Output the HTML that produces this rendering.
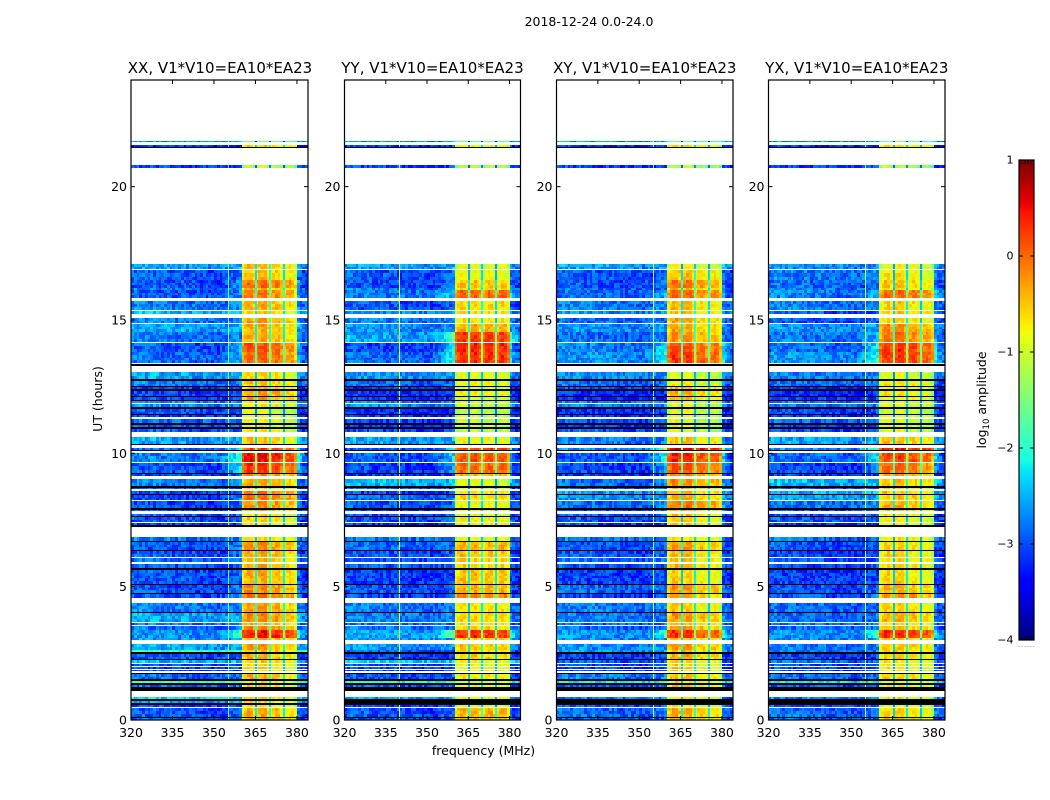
<!DOCTYPE html>
<html lang="en">
<head>
<meta charset="utf-8">
<title>2018-12-24 0.0-24.0 amplitude waterfall</title>
<style>
html,body{margin:0;padding:0;background:#fff;}
svg{display:block;}
text{font-family:"DejaVu Sans","Liberation Sans",sans-serif;fill:#000;}
</style>
</head>
<body>
<svg id="fig" xmlns="http://www.w3.org/2000/svg" width="1050" height="800" viewBox="0 0 1050 800">
  <rect x="0" y="0" width="1050" height="800" fill="#fff"/>
  <text x="589" y="26" text-anchor="middle" font-size="12.5">2018-12-24 0.0-24.0</text>
  <text x="483.5" y="755" text-anchor="middle" font-size="12.5">frequency (MHz)</text>
  <text transform="translate(102,399) rotate(-90)" text-anchor="middle" font-size="12.5">UT (hours)</text>
  <text transform="translate(986,400) rotate(-90)" text-anchor="middle" font-size="12.5">log<tspan font-size="8.5" dy="3">10</tspan><tspan dy="-3"> amplitude</tspan></text>
  <g id="panels"></g>
  <g id="colorbar"></g>
</svg>
<script>
// ---- categories and ticks ----
const panelTitles = ["XX, V1*V10=EA10*EA23", "YY, V1*V10=EA10*EA23", "XY, V1*V10=EA10*EA23", "YX, V1*V10=EA10*EA23"];
const freqTicks = [320, 335, 350, 365, 380];
const utTicks = [0, 5, 10, 15, 20];
const colorTicks = [-4, -3, -2, -1, 0, 1];

// ---- time rows: top edge in UT hours, descending; each row ends at the next value (last ends at 0) ----
const rowTopUT = [
24.00,21.71,21.66,21.56,21.49,21.45,20.81,20.70,17.10,16.91,
16.88,16.50,16.20,16.14,16.11,15.84,15.72,15.38,15.34,15.23,
15.08,14.90,14.86,14.55,14.19,14.14,13.80,13.40,13.35,13.28,
13.05,12.78,12.72,12.53,12.48,12.40,12.35,12.15,12.10,12.00,
11.95,11.90,11.86,11.73,11.67,11.48,11.43,11.37,11.30,11.13,
11.07,10.98,10.92,10.79,10.60,10.35,10.30,10.19,10.13,10.07,
10.02,9.68,9.62,9.27,9.23,9.15,9.05,8.76,8.71,8.67,
8.60,8.48,8.44,8.25,8.21,7.94,7.89,7.85,7.73,7.65,
7.61,7.44,7.40,7.30,7.24,6.86,6.73,6.68,6.38,6.33,
6.12,6.09,5.91,5.85,5.69,5.64,5.10,5.05,4.77,4.74,
4.56,4.39,4.05,4.00,3.68,3.64,3.56,3.53,3.38,3.08,
3.00,2.85,2.64,2.61,2.54,2.49,2.30,2.25,2.15,2.10,
2.03,1.99,1.91,1.88,1.82,1.77,1.73,1.53,1.47,1.38,
1.31,1.25,1.07,0.86,0.78,0.72,0.63,0.56,0.50,0.46,
0.12,0.08];
// W = no data (blank), K = flagged (black), D = data row
const rowKinds = (
"W D W D K W D W D W " +
"D D D W D W D W D W " +
"D W D D W D D W K W " +
"D K D K D K D K D K " +
"D W D K D K D W D K " +
"D K D W D K W D K W " +
"D W D K D W D K D W " +
"D K D W D K D W D K " +
"D W D K W D K D K D " +
"W D W D K D K D K D " +
"W D K D W D W D D D " +
"W D K D K D K D W D " +
"W D W D W K D K D K " +
"D K W D K D K D W D " +
"K D").trim().split(" ");

// ---- per-polarisation level of each data row, log10 amplitude ----
const xxLow = [
-2.7,-3.2,-3.1,-2.6,-3.0,-3.0,-2.8,-3.0,-2.8,-2.5,
-2.8,-2.6,-2.8,-3.0,-2.9,-2.6,-2.8,-3.1,-3.1,-3.1,
-2.7,-2.7,-3.0,-3.1,-2.9,-3.0,-3.0,-2.6,-2.9,-2.8,
-3.0,-3.1,-2.8,-3.0,-3.1,-3.1,-3.1,-3.0,-2.9,-3.0,
-3.1,-2.8,-3.0,-3.0,-2.9,-3.0,-3.0,-3.0,-3.0,-2.8,
-2.6,-2.8,-2.9,-2.7,-2.7,-2.6,-1.9,-3.0,-2.5,-3.1,
-3.1,-3.1,-2.9,-1.9,-2.9,-2.3,-2.6,-3.0,-3.0,-3.0];
const xxBand = [
-1.6,-.6,-1.2,-.6,-.6,-.1,-.5,-.2,-.5,-.6,
-.4,-.5,-.5,0,-.1,-.7,-.6,-.5,-.4,-.4,
-.9,-.8,-1,-1,-.9,-.9,-.8,-.6,.1,.35,
.15,-.3,-.45,-.7,-.2,-.2,-.3,-.6,-.7,-.7,
-.8,-.7,-.3,-.5,-.5,-.4,-.5,-.3,-.15,-.4,
-.3,-.5,-.3,.35,-.5,-.4,-.6,-.5,-.7,-.7,
-.7,-.8,-.5,-.8,-.7,-.7,-.7,-.9,-.5,-.4];
const yyLow = [
-2.7,-3.2,-3.1,-2.6,-3.0,-3.0,-2.8,-2.8,-3.0,-2.7,
-2.8,-2.7,-2.6,-3.1,-2.9,-2.7,-2.9,-3.2,-3.2,-3.2,
-2.8,-2.7,-3.2,-3.2,-3.1,-3.2,-3.1,-2.6,-3.0,-3.0,
-3.1,-3.2,-2.5,-3.0,-3.1,-2.9,-3.0,-3.1,-3.0,-3.0,
-3.2,-2.8,-2.9,-3.0,-3.0,-3.0,-3.1,-3.0,-3.1,-2.8,
-2.8,-2.9,-2.8,-2.6,-2.7,-2.7,-3.0,-3.1,-2.4,-3.1,
-3.1,-3.1,-3.0,-2.0,-3.0,-2.6,-9,-3.1,-3.0,-3.0];
const yyBand = [
-1.6,-.8,-1.2,-.9,-.8,-.5,-.7,0,-.6,-.7,
-.7,-.4,.25,.35,.3,-.9,-.8,-.9,-.8,-.9,
-1,-1,-1.1,-1,-1,-1,-1.1,-.8,.3,.1,
0,-.4,-.9,-.9,-.7,-.6,-.8,-.8,-.9,-.8,
-.8,-.9,-.4,-.5,-.6,-.6,-.5,-.4,-.1,-.7,
-.6,-.7,-.6,.3,-.6,-.5,-.6,-.6,-.8,-.8,
-.8,-.9,-.7,-.9,-.8,-.8,-9,-1,-.4,-.4];
const xyLow = [
-2.7,-3.2,-3.1,-2.6,-3.0,-3.0,-2.9,-2.9,-2.8,-2.7,
-2.9,-2.7,-2.9,-2.8,-2.7,-2.7,-2.9,-3.1,-3.2,-3.2,
-2.8,-2.8,-3.2,-3.2,-3.0,-3.1,-3.0,-2.8,-2.7,-3.0,
-3.1,-3.2,-2.9,-3.0,-2.6,-2.7,-2.9,-3.0,-2.9,-3.0,
-3.1,-2.8,-3.0,-3.0,-2.9,-3.0,-3.1,-2.9,-3.1,-2.8,
-2.8,-2.9,-2.9,-2.7,-2.7,-2.7,-2.7,-3.1,-3.0,-3.1,
-3.1,-3.1,-2.8,-2.2,-3.0,-2.8,-9,-3.0,-2.9,-3.0];
const xyBand = [
-1.6,-.8,-1.2,-.9,-.6,-.2,-.6,-.1,-.6,-.6,
-.5,-.5,-.4,0,.1,-1,-.9,-.6,-.5,-.6,
-1,-1,-1,-1,-1,-1,-1.1,-.6,.5,.2,
0,-.3,-.3,-.7,-.5,-.5,-.2,-.6,-.6,-.7,
-.7,-.8,-.4,-.6,-.6,-.6,-.7,-.4,-.5,-.7,
-.4,-.6,-.4,.15,-.6,-.4,-.6,-.5,-.7,-.7,
-.7,-.8,-.6,-.8,-.7,-.8,-9,-.9,-.5,-.5];
const yxLow = [
-2.7,-3.2,-3.1,-2.7,-2.8,-2.9,-2.8,-2.8,-2.8,-3.0,
-3.0,-2.7,-2.8,-2.9,-2.7,-2.8,-2.9,-3.2,-3.2,-3.1,
-2.8,-2.8,-3.1,-3.2,-2.9,-3.1,-3.1,-2.6,-2.7,-2.9,
-3.1,-3.2,-2.5,-3.0,-2.5,-2.6,-2.8,-3.0,-3.0,-3.0,
-3.2,-2.9,-3.0,-3.1,-3.0,-3.1,-3.1,-3.0,-3.0,-2.9,
-2.9,-2.9,-2.9,-2.7,-2.7,-2.8,-2.8,-3.1,-2.9,-3.1,
-3.1,-3.1,-2.9,-2.2,-3.0,-2.8,-9,-3.0,-2.9,-3.0];
const yxBand = [
-1.6,-.8,-1.2,-.9,-.8,-.6,-.8,-.1,-.7,-.6,
-.7,-.3,-.2,.15,.15,-1,-.8,-1,-.8,-.9,
-1,-1,-1.1,-1,-1,-1,-1,-.6,.4,.1,
-.1,-.4,-.6,-.8,-.6,-.6,-.5,-.7,-.8,-.9,
-.9,-.8,-.7,-.7,-.7,-.7,-.7,-.5,-.3,-.7,
-.5,-.7,-.6,.2,-.7,-.6,-.7,-.7,-.8,-.8,
-.8,-.9,-.7,-.9,-.8,-.8,-9,-1,-.7,-.5];

// ---- channel profiles, 320..383 MHz in 1 MHz steps ----
const lowShape = [
.05,.1,.1,.1,.1,.05,.05,.1,.1,.05,
.05,0,.05,.05,.05,0,0,0,.05,.05,
0,0,0,-.05,-.05,-.05,0,-.05,-.05,-.05,
-.05,-.1,-.05,-.05,-.05,0,.05,.05,.05,.1,
0,0,0,0,0,0,0,0,0,0,
0,0,0,0,0,0,0,0,0,0,
.1,-.05,-.1,-.1];
const bandShape = [
null,null,null,null,null,null,null,null,null,null,
null,null,null,null,null,null,null,null,null,null,
null,null,null,null,null,null,null,null,null,null,
null,null,null,null,null,null,null,null,null,null,
-.3,-.1,.05,.05,-.15,-.2,0,.08,.05,-.2,
-.25,-.05,.05,.02,-.2,-.25,-.05,.03,-.05,-.35,
null,null,null,null];
const edgeLeak = [
0,0,0,0,0,0,0,0,0,0,
0,0,0,0,0,0,0,0,0,0,
0,0,0,0,0,0,0,0,0,0,
0,0,.15,.3,.4,.5,.6,.75,.9,1.2,
0,0,0,0,0,0,0,0,0,0,
0,0,0,0,0,0,0,0,0,0,
1.0,.5,.2,.1];
// narrow dips between the sub-bands: centre frequency (MHz), width (MHz), depth (dex)
const dipFreqs = [365.0, 369.8, 374.9];
const dipWidths = [.55, .55, .6];
const dipDepths = [-1.7, -1.5, -1.7];
// interference line frequency (MHz) and strength in each polarisation
const spikeFreqs = [355.1, 339.7, 354.9, 354.9];
const spikeStrength = [1.3, 2.0, 1.7, 1.7];
// relative level of the four sub-bands in each polarisation
const xxSub = [.1, .1, 0, -.15];
const yySub = [0, 0, 0, 0];
const xySub = [.15, .1, -.1, -.1];
const yxSub = [.1, .1, 0, -.1];
// channel-to-channel scatter sample
const scatter = [
.21,-.34,.08,-.12,.37,-.26,.02,.29,-.39,.14,
-.07,.33,-.21,-.3,.11,.24,-.16,.4,-.03,-.36,
.18,-.24,.31,.05,-.11,-.33,.27,.09,-.4,.16,
-.19,.35,-.06,.22,-.28,.12,-.37,.3,.01,-.14,
.26,-.22,.38,-.09,.17,-.31,.04,.34,-.25,-.02,
.2,-.35,.13,.28,-.17,-.08,.36,-.29,.07,.25,-.13];

const lowSets = [xxLow, yyLow, xyLow, yxLow];
const bandSets = [xxBand, yyBand, xyBand, yxBand];
const subSets = [xxSub, yySub, xySub, yxSub];

// ---- layout and axis functions ----
const SVGNS = "http://www.w3.org/2000/svg";
const frames = [[131, 308], [344.5, 520.5], [556.5, 733], [768.5, 945]];
const plotTop = 80, plotBottom = 720;
const freqMin = 320, freqMax = 384, utMax = 24;
const cbLeft = 1019, cbRight = 1034, cbTop = 160, cbBottom = 640, vMin = -4, vMax = 1;
function xScale(p, f) { return frames[p][0] + (f - freqMin) * (frames[p][1] - frames[p][0]) / (freqMax - freqMin); }
function yScale(ut) { return plotBottom - ut * (plotBottom - plotTop) / utMax; }
function cScale(v) { return cbBottom - (v - vMin) * (cbBottom - cbTop) / (vMax - vMin); }
function lerp(pts, t) {
  for (let i = 1; i < pts.length; i++) {
    if (t <= pts[i][0]) return pts[i-1][1] + (pts[i][1] - pts[i-1][1]) * (t - pts[i-1][0]) / (pts[i][0] - pts[i-1][0]);
  }
  return pts[pts.length - 1][1];
}
const jetR = [[0,0],[.35,0],[.66,1],[.89,1],[1,.5]];
const jetG = [[0,0],[.125,0],[.375,1],[.64,1],[.91,0],[1,0]];
const jetB = [[0,.5],[.11,1],[.34,1],[.65,0],[1,0]];
function jet(v) {
  const t = Math.max(0, Math.min(1, (v - vMin) / (vMax - vMin)));
  return "rgb(" + Math.round(255 * lerp(jetR, t)) + "," + Math.round(255 * lerp(jetG, t)) + "," + Math.round(255 * lerp(jetB, t)) + ")";
}
function make(tag, attrs, parent) {
  const node = document.createElementNS(SVGNS, tag);
  for (const k in attrs) node.setAttribute(k, attrs[k]);
  parent.appendChild(node);
  return node;
}
function cellValue(p, d, sr, c) {
  const low = lowSets[p][d], band = bandSets[p][d];
  const s = scatter[(c * c * 3 + c * 7 + sr * 13 + sr * c + p * 23) % scatter.length];
  if (bandShape[c] !== null) {
    const sub = subSets[p][Math.min(3, Math.floor((c - 40) / 5))];
    return band + bandShape[c] + sub + s * 0.5;
  }
  return low + lowShape[c] + s * 0.8 + edgeLeak[c] * Math.max(0, band + 0.4);
}

// ---- draw panels ----
const panelsRoot = document.getElementById("panels");
frames.forEach(function (fr, p) {
  const L = fr[0], R = fr[1];
  const g = make("g", {}, panelsRoot);
  
  
  const cells = make("g", { "shape-rendering": "crispEdges" }, g);
  
  
  let d = 0, subRow = 0;
  rowTopUT.forEach(function (top, r) {
    const bottom = r + 1 < rowTopUT.length ? rowTopUT[r + 1] : 0;
    const y0 = Math.round(yScale(top)), y1 = Math.max(y0 + 1, Math.round(yScale(bottom)));
    const kind = rowKinds[r];
    if (kind === "W") return;
    const blackRow = kind === "K" || lowSets[p][d] <= -9;
    if (blackRow) {
      const bar = make("rect", { x: L, y: y0, width: R - L, height: y1 - y0, fill: "#000" }, cells);
      
      
    } else {
      const slices = Math.max(1, Math.round((y1 - y0) / 3));
      for (let k = 0; k < slices; k++) {
        const ya = y0 + Math.round(k * (y1 - y0) / slices), yb = y0 + Math.round((k + 1) * (y1 - y0) / slices);
        for (let c = 0; c < freqMax - freqMin; c++) {
          const x0 = Math.round(xScale(p, freqMin + c)), x1 = Math.round(xScale(p, freqMin + c + 1));
          const cell = make("rect", { x: x0, y: ya, width: x1 - x0, height: yb - ya, fill: jet(cellValue(p, d, subRow, c)) }, cells);
          
          
        }
        subRow++;
      }
      // narrow dips between sub-bands
      dipFreqs.forEach(function (f, i) {
        const dx = Math.round(xScale(p, f)), dw = Math.max(1, Math.round(dipWidths[i] * (R - L) / (freqMax - freqMin)));
        const dip = make("rect", { x: dx, y: y0, width: dw, height: y1 - y0, fill: jet(bandSets[p][d] + dipDepths[i]) }, cells);
        
        
      });
      // narrow interference line
      const sp = make("rect", { x: Math.round(xScale(p, spikeFreqs[p])), y: y0, width: 1, height: y1 - y0, fill: jet(lowSets[p][d] + spikeStrength[p]) }, cells);
      
      
    }
    if (kind === "D") d++;
  });
  // frame
  const frame = make("rect", { x: L, y: plotTop, width: R - L, height: plotBottom - plotTop, fill: "none", stroke: "#000", "stroke-width": 1.2 }, g);
  
  
  // x ticks
  freqTicks.forEach(function (f) {
    const x = xScale(p, f);
    const t1 = make("line", { x1: x, x2: x, y1: plotBottom, y2: plotBottom - 4, stroke: "#000", "stroke-width": 1 }, g);
    
    
    const t2 = make("line", { x1: x, x2: x, y1: plotTop, y2: plotTop + 4, stroke: "#000", "stroke-width": 1 }, g);
    
    
    const lab = make("text", { x: x, y: 737, "text-anchor": "middle", "font-size": 12.5 }, g);
    lab.textContent = String(f);
    
    
  });
  // y ticks
  utTicks.forEach(function (u) {
    const y = yScale(u);
    const t1 = make("line", { x1: L, x2: L + 4, y1: y, y2: y, stroke: "#000", "stroke-width": 1 }, g);
    
    
    const t2 = make("line", { x1: R, x2: R - 4, y1: y, y2: y, stroke: "#000", "stroke-width": 1 }, g);
    
    
    const lab = make("text", { x: L - 4, y: y + 4.5, "text-anchor": "end", "font-size": 12.5 }, g);
    lab.textContent = String(u);
    
    
  });
  // title
  const title = make("text", { x: (L + R) / 2 + (p === 0 ? 0.5 : 0), y: 73, "text-anchor": "middle", "font-size": 15 }, g);
  title.textContent = panelTitles[p];
  
  
});

// ---- draw colorbar ----
const cb = document.getElementById("colorbar");
const cbSwatches = make("g", { "shape-rendering": "crispEdges" }, cb);


for (let y = cbTop; y < cbBottom; y++) {
  const v = vMin + (cbBottom - y - 0.5) * (vMax - vMin) / (cbBottom - cbTop);
  const sw = make("rect", { x: cbLeft, y: y, width: cbRight - cbLeft, height: 1, fill: jet(v) }, cbSwatches);
  
  
}
const cbFrame = make("rect", { x: cbLeft, y: cbTop, width: cbRight - cbLeft, height: cbBottom - cbTop, fill: "none", stroke: "#000", "stroke-width": 1.2 }, cb);


colorTicks.forEach(function (v) {
  const y = cScale(v);
  const t1 = make("line", { x1: cbLeft, x2: cbLeft + 4, y1: y, y2: y, stroke: "#000", "stroke-width": 1 }, cb);
  
  
  const t2 = make("line", { x1: cbRight, x2: cbRight - 4, y1: y, y2: y, stroke: "#000", "stroke-width": 1 }, cb);
  
  
  const lab = make("text", { x: 1013.5, y: y + 3.5, "text-anchor": "end", "font-size": 11 }, cb);
  lab.textContent = String(v).replace("-", "\u2212");
  
  
});
for (let i = 0; i < 6; i++) {
  const x = cbLeft + i * (cbRight - cbLeft) / 5;
  const top = make("line", { x1: x, x2: x, y1: cbTop, y2: cbTop + 4, stroke: "#000", "stroke-width": 0.8 }, cb);
  
  
  const bot = make("line", { x1: x, x2: x, y1: cbBottom, y2: cbBottom - 4, stroke: "#000", "stroke-width": 0.8 }, cb);
  
  
  const dot = make("rect", { x: x - 0.5, y: 646, width: 1, height: 1, fill: "#999" }, cb);
  
  
}
</script>
</body>
</html>
